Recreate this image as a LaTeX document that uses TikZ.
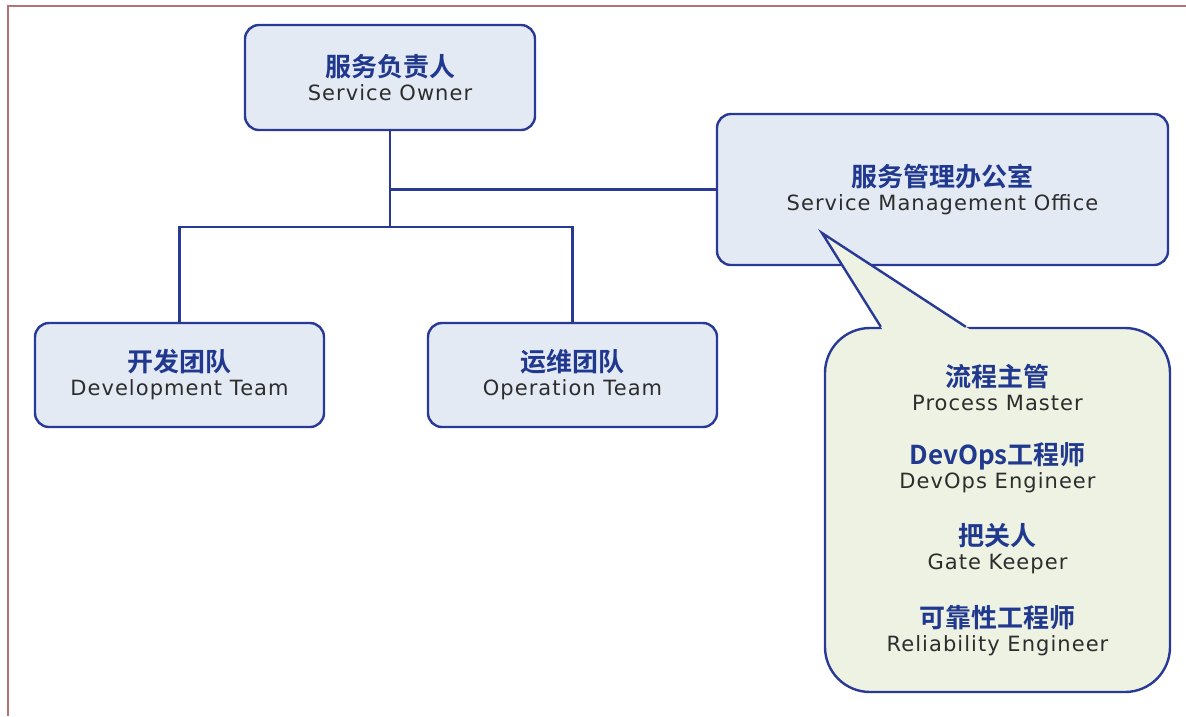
\documentclass[tikz,border=0pt]{standalone}
\usepackage{fontspec}
\usetikzlibrary{positioning,calc}

\newfontfamily\enfont{DejaVu Sans}[LetterSpace=5]
\newfontfamily\cnfont{Noto Sans CJK SC}[BoldFont={Noto Sans CJK SC Bold}]

\definecolor{boxline}{RGB}{40,58,150}
\definecolor{boxfill}{RGB}{228,234,244}
\definecolor{bubblefill}{RGB}{237,242,226}
\definecolor{cntext}{RGB}{32,56,142}
\definecolor{entext}{RGB}{45,45,45}
\definecolor{framecol}{RGB}{180,115,115}

\newcommand{\cnname}[1]{{\cnfont\bfseries\fontsize{26}{24}\selectfont\color{cntext}#1}}

\begin{document}
\begin{tikzpicture}[x=1pt, y=-1pt,
    rolebox/.style={draw=boxline, fill=boxfill, line width=2.4pt, rounded corners=14pt,
        align=center, inner sep=0pt, text=entext, font=\enfont\fontsize{21}{24}\selectfont},
    link/.style={draw=boxline, line width=2.4pt}]
\useasboundingbox (0,0) rectangle (1186,716);

% Frame
\draw[framecol, line width=1.5pt] (8,716) -- (8,6) -- (1186,6);

% Boxes
\node[rolebox, minimum width=290pt, minimum height=105pt] (owner) at (390,77.5)
    {\cnname{服务负责人}\\Service Owner};
\node[rolebox, minimum width=451pt, minimum height=151pt] (smo) at (942.5,189.5)
    {\cnname{服务管理办公室}\\Service Management Office};
\node[rolebox, minimum width=289pt, minimum height=104pt] (dev) at (179.5,375)
    {\cnname{开发团队}\\Development Team};
\node[rolebox, minimum width=289pt, minimum height=104pt] (ops) at (572.5,375)
    {\cnname{运维团队}\\Operation Team};

% Callout
\node[rolebox, fill=bubblefill, rounded corners=45pt, minimum width=345pt, minimum height=364pt] (roles) at (997.5,510)
    {\cnname{流程主管}\\Process Master\\[30pt]
     \cnname{DevOps工程师}\\DevOps Engineer\\[30pt]
     \cnname{把关人}\\Gate Keeper\\[30pt]
     \cnname{可靠性工程师}\\Reliability Engineer};
\coordinate (tip) at (822,233);
\coordinate (pl) at ($(roles.north west)+(57,0)$);
\coordinate (pr) at ($(roles.north west)+(142,0)$);
\fill[bubblefill] (tip) -- ($(tip)!1.04!(pl)$) -- ($(tip)!1.04!(pr)$) -- cycle;
\draw[link] (pl) -- (tip) -- (pr);

% Lines
\coordinate (split) at (390,227);
\draw[link] (owner) |- (smo);
\draw[link] (owner) -- (split) -| (dev);
\draw[link] (split) -| (ops);

\end{tikzpicture}
\end{document}
